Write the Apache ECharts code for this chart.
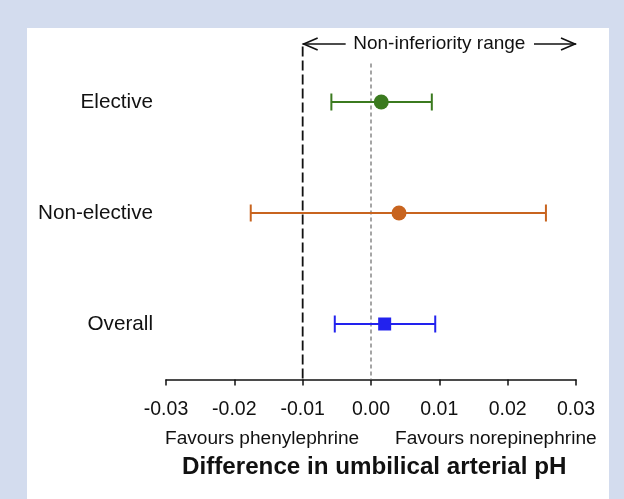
<!DOCTYPE html>
<html>
<head>
<meta charset="utf-8">
<script src="https://cdn.jsdelivr.net/npm/echarts@6/dist/echarts.min.js"></script>
<style>
html,body{margin:0;padding:0;background:#d3dcee;}
#main{width:624px;height:499px;}
</style>
</head>
<body>
<div id="main"></div>
<script>
const categories = ['Elective', 'Non-elective', 'Overall'];
const estimates = [0.0015, 0.0041, 0.0020];
const lowerCI = [-0.0058, -0.0176, -0.0053];
const upperCI = [0.0089, 0.0256, 0.0094];
const colors = ['#3b7a1f', '#c8641f', '#2222ee'];
const symbols = ['circle', 'circle', 'rect'];
const xTicks = [-0.03, -0.02, -0.01, 0.00, 0.01, 0.02, 0.03];
const nonInferiorityMargin = -0.01;
const nullLine = 0;
const rangeEnd = 0.03;

const FONT = 'Liberation Sans, Arial, sans-serif';
const chart = echarts.init(document.getElementById('main'));

const errorData = categories.map((c, i) => [lowerCI[i], upperCI[i], i]);
const pointData = categories.map((c, i) => ({
  value: [estimates[i], c],
  symbol: symbols[i],
  symbolSize: symbols[i] === 'rect' ? 13 : 15,
  itemStyle: { color: colors[i], opacity: 1 }
}));

chart.setOption({
  backgroundColor: 'transparent',
  animation: false,
  graphic: [
    { type: 'rect', z: -10, shape: { x: 27, y: 28, width: 582, height: 471 }, style: { fill: '#ffffff' } },
    { type: 'text', left: 165, top: 429, style: { text: 'Favours phenylephrine', font: '19.1px ' + FONT, fill: '#111' } },
    { type: 'text', left: 395, top: 429, style: { text: 'Favours norepinephrine', font: '19.1px ' + FONT, fill: '#111' } },
    { type: 'text', left: 182, top: 455, style: { text: 'Difference in umbilical arterial pH', font: 'bold 24.2px ' + FONT, fill: '#111' } }
  ],
  grid: { left: 166, right: 48, top: 46.5, bottom: 119.5 },
  xAxis: {
    type: 'value', min: -0.03, max: 0.03, interval: 0.01,
    axisLine: { show: true, lineStyle: { color: '#111', width: 1.5 } },
    axisTick: { show: true, inside: false, length: 6, lineStyle: { color: '#111', width: 1.5 } },
    splitLine: { show: false },
    axisLabel: { color: '#111', fontSize: 19.5, fontFamily: FONT, margin: 20,
      formatter: v => { const t = xTicks.find(x => Math.abs(x - v) < 1e-9); return (t === undefined ? v : t).toFixed(2); } }
  },
  yAxis: {
    type: 'category', data: categories, inverse: true,
    axisLine: { show: false }, axisTick: { show: false }, splitLine: { show: false },
    axisLabel: { color: '#111', fontSize: 20.7, fontFamily: FONT, margin: 13 }
  },
  series: [
    {
      type: 'custom', name: 'reference', z: 1,
      data: [[nonInferiorityMargin, nullLine, rangeEnd]],
      renderItem: (params, api) => {
        const band = api.size([0, 1])[1];
        const yTop = api.coord([0, 0])[1] - band / 2;
        const yBot = api.coord([0, categories.length - 1])[1] + band / 2;
        const xm = api.coord([api.value(0), 0])[0];
        const x0 = api.coord([api.value(1), 0])[0];
        const xe = api.coord([api.value(2), 0])[0];
        const xc = (xm + xe) / 2;
        const ya = yTop - 2.5;
        return {
          type: 'group',
          children: [
            { type: 'line', shape: { x1: xm, y1: yTop, x2: xm, y2: yBot }, style: { stroke: '#111', lineWidth: 1.8, lineDash: [10, 4] } },
            { type: 'line', shape: { x1: x0, y1: yTop + 17, x2: x0, y2: yBot }, style: { stroke: '#888', lineWidth: 1.5, lineDash: [4, 3] } },
            { type: 'line', shape: { x1: xm, y1: ya, x2: xm + 43, y2: ya }, style: { stroke: '#111', lineWidth: 1.6 } },
            { type: 'polyline', shape: { points: [[xm + 15, ya - 6], [xm + 1, ya], [xm + 15, ya + 6]] }, style: { stroke: '#111', lineWidth: 1.6, fill: null } },
            { type: 'line', shape: { x1: xe - 42, y1: ya, x2: xe, y2: ya }, style: { stroke: '#111', lineWidth: 1.6 } },
            { type: 'polyline', shape: { points: [[xe - 15, ya - 6], [xe - 1, ya], [xe - 15, ya + 6]] }, style: { stroke: '#111', lineWidth: 1.6, fill: null } },
            { type: 'text', style: { x: xc, y: ya, text: 'Non-inferiority range', font: '19px ' + FONT, fill: '#111', align: 'center', verticalAlign: 'middle' } }
          ]
        };
      }
    },
    {
      type: 'custom', name: 'ci', z: 2,
      data: errorData,
      renderItem: (params, api) => {
        const i = api.value(2);
        const p1 = api.coord([api.value(0), i]);
        const p2 = api.coord([api.value(1), i]);
        const h = 8.5;
        const st = { stroke: colors[i], lineWidth: 2 };
        return {
          type: 'group',
          children: [
            { type: 'line', shape: { x1: p1[0], y1: p1[1], x2: p2[0], y2: p2[1] }, style: st },
            { type: 'line', shape: { x1: p1[0], y1: p1[1] - h, x2: p1[0], y2: p1[1] + h }, style: st },
            { type: 'line', shape: { x1: p2[0], y1: p2[1] - h, x2: p2[0], y2: p2[1] + h }, style: st }
          ]
        };
      }
    },
    {
      type: 'scatter', name: 'estimate', z: 3,
      data: pointData
    }
  ]
});
</script>
</body>
</html>
